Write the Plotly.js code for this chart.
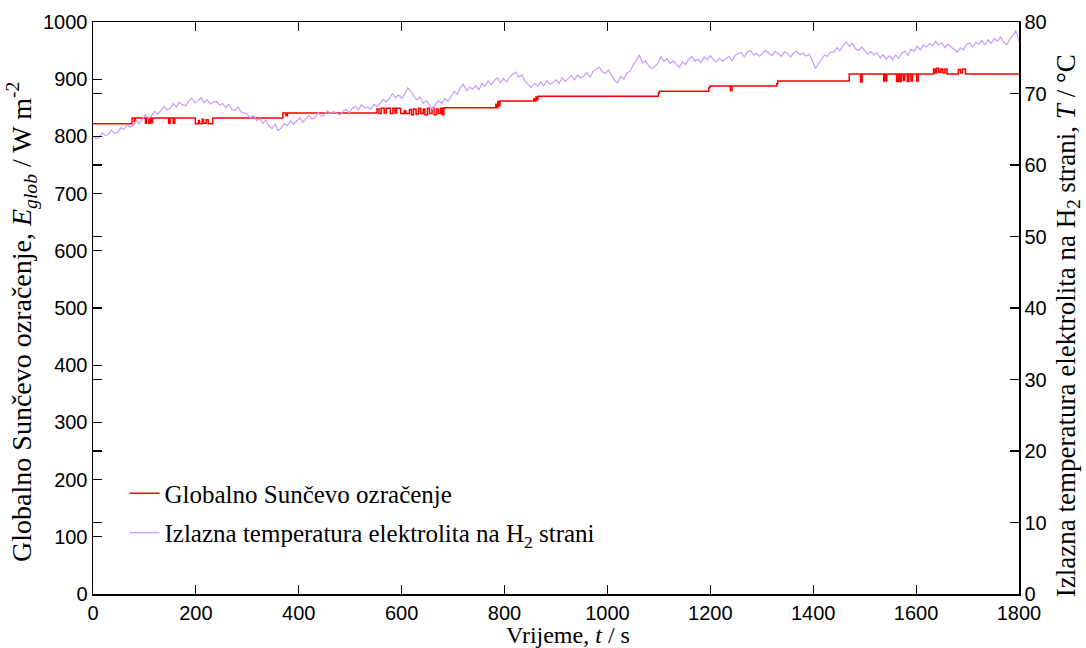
<!DOCTYPE html>
<html>
<head>
<meta charset="utf-8">
<script src="https://cdn.plot.ly/plotly-3.0.1.min.js"></script>
<style>html,body{margin:0;padding:0;background:#fff;}#chart{width:1086px;height:648px;}</style>
</head>
<body>
<div id="chart"></div>
<script>
// Global solar irradiance (W/m2), step changes: time (s) and value from that time on
const irrTime = [0,76,80,82,102,104,108,111,114,116,147,150,156,159,199,205,207,212,215,220,224,233,
  369,375,378,
  552,556,560,566,570,578,583,587,590,598,605,608,615,619,623,628,633,637,642,645,650,654,659,663,668,672,676,679,682,
  783,785,787,789,791,857,859,861,863,865,
  1099,1101,1197,1199,1239,1242,1329,1331,1470,1492,1495,
  1537,1539,1541,1543,1562,1565,1568,1571,1575,1578,1583,1586,1590,1593,1601,1604,
  1634,1637,1640,1644,1648,1652,1656,1660,1682,1686,1690,1696,1800];
const irrValue = [822,832,826,832,823,832,823,832,824,832,823,832,823,832,822,828,822,830,823,829,822,832,
  841,836,841,
  848,840,849,841,849,840,849,841,849,840,845,840,847,838,848,839,849,840,848,838,849,840,849,838,848,840,849,838,850,
  856,850,861,853,862,866,862,869,864,870,
  876,879,885,888,880,888,892,897,909,895,909,
  897,909,897,909,896,909,896,909,898,909,896,909,897,909,897,909,
  918,911,919,912,918,911,918,909,917,911,918,909,909];

// Outlet electrolyte temperature on H2 side (°C), sampled every 6 s from 0 s
const tempStep = 6;
const tempValue = [
  64.1,63.7,63.9,64.5,64.1,64.3,64.9,64.4,64.6,65.2,
  65.0,65.6,65.3,65.5,66.2,65.8,66.4,67.0,66.5,66.9,
  67.5,67.1,67.6,68.2,67.7,67.9,68.6,68.1,68.8,68.4,
  68.3,68.9,69.3,68.7,69.0,69.4,68.7,69.1,68.5,68.8,
  68.9,68.4,68.6,68.0,68.5,67.8,67.6,68.1,67.4,67.2,
  67.1,66.6,66.9,66.2,66.5,65.8,66.3,65.5,65.1,65.7,
  64.8,65.2,65.8,65.5,66.2,65.7,66.1,66.6,66.0,66.4,
  66.9,66.4,66.7,67.3,66.8,67.0,67.6,67.1,67.5,67.2,
  67.0,67.5,67.8,67.3,67.9,68.2,67.7,68.4,68.0,68.1,
  67.8,68.5,68.2,68.6,69.2,68.8,69.3,70.0,69.4,69.8,
  69.3,69.9,70.8,70.3,69.6,69.1,69.5,68.6,69.0,68.4,
  67.8,68.5,69.0,68.6,69.3,68.9,69.7,70.3,69.9,70.8,
  71.3,70.4,70.9,70.6,71.1,70.5,71.4,71.0,71.8,71.2,
  71.8,72.2,71.5,72.1,71.6,72.3,72.7,73.0,72.3,72.6,
  71.7,71.2,70.8,71.4,71.0,71.6,71.1,71.8,71.3,71.5,
  71.9,71.4,72.2,71.7,72.1,72.5,71.9,72.6,72.2,72.4,
  72.9,72.3,73.1,73.4,73.7,73.0,72.8,73.3,72.5,71.8,
  71.5,72.4,72.0,72.9,73.1,74.0,74.6,75.4,74.3,74.6,
  73.9,73.5,73.8,74.2,75.1,74.5,74.9,74.2,74.6,74.0,
  73.7,74.4,74.0,74.8,75.2,74.5,74.8,74.3,75.1,74.7,
  75.3,74.7,74.4,74.9,74.5,74.9,75.2,74.6,75.3,75.6,
  75.7,75.1,75.8,76.0,75.4,75.6,75.2,75.7,76.0,75.6,
  75.3,75.9,75.5,75.2,75.8,75.6,75.1,75.7,75.9,75.4,
  75.7,75.2,75.5,74.7,73.5,74.2,74.8,75.4,75.2,75.8,
  75.8,76.4,76.0,76.7,77.2,76.6,77.0,76.3,76.0,76.5,
  76.0,75.5,75.9,75.4,75.7,75.0,75.4,74.8,75.3,74.7,
  75.4,74.9,75.6,75.9,75.3,76.2,75.9,76.6,76.1,76.8,
  76.5,77.0,76.7,77.3,76.8,77.1,76.4,76.9,76.5,76.1,
  75.8,76.4,76.1,76.8,77.1,76.5,77.2,76.9,77.4,76.8,
  77.5,77.0,77.7,77.3,77.9,77.2,76.8,77.6,78.1,78.8,
  77.3
];
const tempTime = tempValue.map((_, i) => i * tempStep);

const xTicks = [0,200,400,600,800,1000,1200,1400,1600,1800];
const yLeftTicks = [0,100,200,300,400,500,600,700,800,900,1000];
const yRightTicks = [0,10,20,30,40,50,60,70,80];

const serif = 'Liberation Serif, Times New Roman, serif';
const sans = 'Liberation Sans, Arial, sans-serif';

const traces = [
  {
    x: tempTime, y: tempValue, yaxis: 'y2', type: 'scatter', mode: 'lines',
    name: 'Izlazna temperatura elektrolita na H<sub>2</sub> strani',
    line: {color: '#c59dff', width: 1.2},
    legendgroup: 'b', legendrank: 2
  },
  {
    x: irrTime, y: irrValue, type: 'scatter', mode: 'lines',
    name: 'Globalno Sunčevo ozračenje',
    line: {color: '#ff0000', width: 1.5, shape: 'hv'},
    legendgroup: 'a', legendrank: 1
  }
];

const axisCommon = {
  showgrid: false, zeroline: false, showline: true, linecolor: '#000', linewidth: 1.5,
  ticks: 'inside', ticklen: 9, tickwidth: 1.2, tickcolor: '#000',
  tickfont: {family: sans, size: 20, color: '#000'}
};

const layout = {
  width: 1086, height: 648,
  margin: {l: 93, r: 67, t: 22, b: 54},
  paper_bgcolor: '#fff', plot_bgcolor: '#fff',
  showlegend: true,
  legend: {
    x: 0.034, y: 0.216, xanchor: 'left', yanchor: 'top',
    bgcolor: 'rgba(0,0,0,0)', borderwidth: 0,
    font: {family: serif, size: 25, color: '#000'},
    traceorder: 'grouped', tracegroupgap: 4
  },
  xaxis: Object.assign({}, axisCommon, {
    range: [0, 1800], tickvals: xTicks, mirror: 'ticks'
  }),
  yaxis: Object.assign({}, axisCommon, {
    range: [0, 1000], tickvals: yLeftTicks, mirror: false
  }),
  yaxis2: Object.assign({}, axisCommon, {
    range: [0, 80], tickvals: yRightTicks, overlaying: 'y', side: 'right', mirror: 'ticks'
  }),
  annotations: [
    {text: 'Vrijeme, <i>t</i> / s', xref: 'paper', yref: 'paper', x: 0.513, y: -0.0723,
     xanchor: 'center', yanchor: 'middle', showarrow: false, borderpad: 0,
     font: {family: serif, size: 24, color: '#000'}},
    {text: 'Globalno Sunčevo ozračenje, <i>E</i><sub><i>glob</i></sub> / W m<sup>-2</sup>', xref: 'paper', yref: 'paper',
     x: -0.0767, y: 0.4757, xanchor: 'center', yanchor: 'middle', textangle: -90, showarrow: false,
     font: {family: serif, size: 28, color: '#000'}},
    {text: 'Izlazna temperatura elektrolita na H<sub>2</sub> strani, <i>T</i> / °C', xref: 'paper', yref: 'paper',
     x: 1.0529, y: 0.47, xanchor: 'center', yanchor: 'middle', textangle: -90, showarrow: false,
     font: {family: serif, size: 27, color: '#000'}}
  ]
};

Plotly.newPlot('chart', traces, layout, {displayModeBar: false, staticPlot: true});
</script>
</body>
</html>
